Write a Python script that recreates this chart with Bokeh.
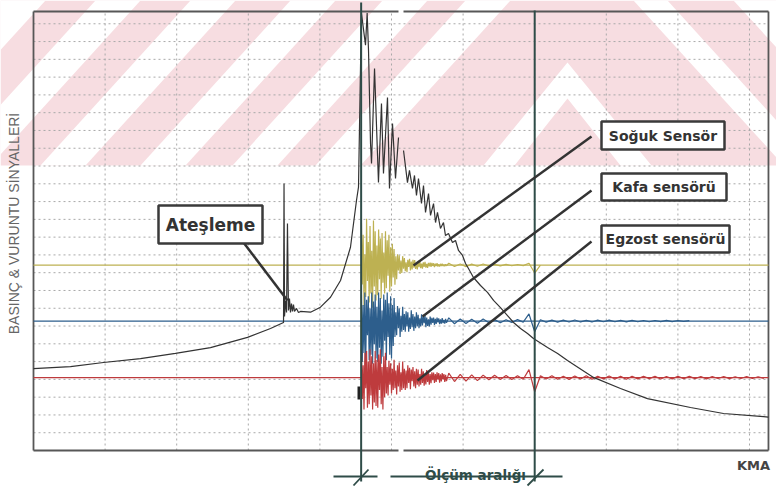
import numpy as np
from bokeh.plotting import figure
from bokeh.models import Range1d, Label
from bokeh.embed import file_html
from bokeh.resources import INLINE

# ---------------- data ----------------
# x: crank angle (KMA) in grid units, 10 per major division; y: signal level in grid divisions
GRID_X = [10, 20, 30, 40, 50, 60, 70, 80, 90, 100]
GRID_Y = [1, 2, 3, 4, 5, 6, 7, 8, 9, 10, 11, 12, 13, 14, 15, 16, 17, 18, 19, 20, 21, 22, 23, 24]
FRAME_RIGHT = 102.65
FRAME_TOP = 24.69

NAN = float("nan")
PRESS_KMA = [0.0, 5.17, 9.78, 14.94, 19.83, 24.72, 29.89, 33.10, 34.92, 34.99,
             35.06, 35.20, 35.34, 35.47, 35.61, 35.75, 35.89, 36.03, 36.17, 36.31,
             36.45, 36.73, 37.01, 37.29, 38.69, 40.08, 41.48, 42.88, 44.27, 45.11,
             45.39, 45.80, 46.37, 46.60, 46.79, 47.07, 47.21, 47.63, 48.18, 48.60,
             48.88, 49.44, 49.72, 50.14, 50.56, 50.98, NAN, 51.68, 52.23, 52.51,
             52.93, 53.21, 53.49, 53.77, 54.19, 54.47, 54.75, 55.17, 55.45, 55.87,
             56.15, 56.42, 56.84, 57.26, 57.54, 57.96, 58.52, 58.94, 59.36, 59.92,
             60.34, 60.75, 61.45, 62.43, 63.41, 64.25, 65.22, 66.20, 67.04, 68.02,
             69.00, 69.83, 71.79, 73.20, 74.58, 78.21, 81.98, 85.75, 91.76, 96.37,
             101.96, 102.65]
PRESS_VAL = [4.61, 4.72, 4.95, 5.17, 5.46, 5.79, 6.36, 6.86, 7.20, 15.02,
             7.54, 8.44, 7.76, 12.77, 7.87, 8.55, 7.76, 8.27, 7.82, 8.21,
             7.82, 7.99, 7.76, 7.82, 7.78, 8.06, 8.62, 9.56, 11.43, 14.06,
             14.81, 24.60, 22.80, 24.60, 22.50, 17.27, 16.14, 21.48, 15.07, 19.52,
             15.58, 19.85, 14.74, 18.39, 15.30, 17.60, NAN, 16.87, 15.07, 15.75,
             14.74, 15.47, 14.34, 15.30, 13.89, 14.90, 13.39, 14.45, 13.22, 13.89,
             12.82, 13.39, 12.49, 12.82, 12.09, 12.20, 11.70, 11.81, 11.25, 10.97,
             10.52, 10.24, 9.73, 9.28, 8.89, 8.44, 8.04, 7.59, 7.20, 6.86,
             6.58, 6.30, 5.79, 5.46, 5.06, 4.11, 3.49, 2.92, 2.42, 2.08,
             1.91, 1.88]

# knock sensor samples: dense burst after combustion, then sparser tail
KNOCK_START, KNOCK_STEP = 45.8, 0.12
TAIL_START, TAIL_STEP = 58.0, 0.8

SOGUK_BASE = 10.43
KAFA_BASE = 7.28
EGZOST_BASE = 4.10

SOGUK_BURST = [2.4, -1.1, 1.7, -2.3, 0.6, -1.8, 2.6, -0.9, 1.3, -2.1, 2.2, -1.6, 0.8, -2.4, 2.5, -1.2, 1.9, -2.0,
               1.1, -1.7, 2.0, -0.8, 1.5, -1.9, 1.8, -1.0, 0.7, -1.6, 1.9, -1.3, 1.4, -0.6, 1.7, -1.5, 1.0, -1.2,
               1.2, -0.7, 0.9, -1.1, 0.5, -0.8,
               0.6, -0.3, 0.55, -0.5, 0.25, -0.45, 0.5, -0.2, 0.4,
               -0.35, 0.15, -0.4, 0.3, -0.1, 0.35, -0.3, 0.2, -0.25, 0.3, -0.15, 0.28, -0.22, 0.1, -0.25,
               0.2, -0.12, 0.22, -0.18, 0.08, -0.2, 0.15, -0.1, 0.18, -0.14, 0.06, -0.16, 0.12, -0.08, 0.14,
               -0.1, 0.12, -0.05, 0.1, -0.12, 0.08, -0.06, 0.1, -0.08, 0.04, -0.09, 0.07, -0.05, 0.08, -0.06,
               0.03, -0.07, 0.05, -0.04]
KAFA_BURST = [1.5, -2.3, 0.9, -1.8, 1.6, -2.5, 1.2, -0.8, 1.4, -2.2, 0.7, -1.9, 1.6, -2.4, 1.1, -1.3, 1.5, -2.1,
              0.8, -2.3, 1.6, -1.5, 1.3, -2.4, 0.6, -2.0, 1.5, -1.1, 1.2, -2.2, 1.6, -0.9, 1.0, -1.9, 1.4, -2.1,
              0.9, -1.4, 1.3,
              -0.9, 0.5, -0.8, 0.85, -0.4, 0.7, -0.9, 0.3, -0.6, 0.8, -0.5, 0.4,
              -0.6, 0.55, -0.3, 0.5, -0.6, 0.2, -0.45, 0.6, -0.35, 0.4, -0.55, 0.25, -0.4, 0.5, -0.3,
              0.35, -0.4, 0.15, -0.3, 0.38, -0.25, 0.3, -0.12, 0.32, -0.35, 0.2, -0.28, 0.1, -0.3, 0.25,
              -0.2, 0.18, -0.1, 0.2, -0.22, 0.12, -0.16, 0.2, -0.08, 0.15, -0.18, 0.1, -0.14, 0.16, -0.12,
              0.06, -0.14, 0.12, -0.1]
EGZOST_BURST = [1.6, -1.2, 0.7, -1.8, 1.4, -0.6, 1.5, -1.7, 0.9, -1.5, 1.6, -1.0, 1.2, -1.8, 0.8, -1.4, 1.5, -1.6,
                1.0, -1.7, 1.3, -0.7, 1.6, -1.5, 0.6, -1.8, 1.2, -1.1, 1.4,
                -0.9, 0.6, -1.0, 0.95, -0.4, 0.8, -0.9, 0.5, -0.7, 1.0, -0.6, 0.4, -0.95, 0.7, -0.5, 0.85,
                -0.8, 0.3, -0.7, 0.9, -0.6, 0.5,
                -0.7, 0.4, -0.6, 0.7, -0.3, 0.55, -0.65, 0.45, -0.2, 0.6, -0.5, 0.35, -0.6, 0.5, -0.4,
                0.45, -0.5, 0.2, -0.4, 0.5, -0.3, 0.35, -0.45, 0.15, -0.38, 0.42, -0.25, 0.3, -0.4, 0.2,
                -0.32, 0.3, -0.15, 0.28, -0.3, 0.2, -0.25, 0.3, -0.12, 0.25, -0.28, 0.18, -0.22, 0.25, -0.1,
                0.2, -0.24, 0.15, -0.2]

SOGUK_TAIL = [0.1, -0.08, 0.06, -0.09, 0.05, -0.07, 0.06, -0.05, 0.04, -0.05, 0.04, -0.04, 0.03, -0.03,
              0.1, -0.45, 0.0]
KAFA_TAIL = [0.18, -0.15, 0.12, -0.14, 0.1, -0.12, 0.11, -0.09, 0.08, -0.1, 0.07, -0.08, 0.08, -0.06,
             0.4, -0.6, 0.07,
             -0.06, 0.05, -0.06, 0.05, -0.05, 0.06, -0.05, 0.04, -0.05, 0.05, -0.04, 0.05, -0.04, 0.04,
             -0.05, 0.04, -0.04, 0.03, -0.04, 0.03, -0.03, 0.04, -0.03, 0.03, -0.02, 0.02]
EGZOST_TAIL = [0.25, -0.22, 0.18, -0.2, 0.15, -0.17, 0.14, -0.12, 0.13, -0.1, 0.12, -0.11, 0.1, -0.09,
               0.45, -0.8, 0.1,
               -0.08, 0.1, -0.09, 0.08, -0.1, 0.09, -0.08, 0.1, -0.09, 0.08,
               -0.07, 0.09, -0.08, 0.07, -0.09, 0.08, -0.07, 0.08, -0.06, 0.07,
               -0.08, 0.06, -0.07, 0.08, -0.06, 0.07, -0.06, 0.06, -0.07, 0.06,
               -0.05, 0.06, -0.06, 0.05, -0.05, 0.06, -0.05, 0.05, -0.04]

MEASURE_START, MEASURE_END = 45.76, 70.0

# ---------------- layout helpers (page pixels -> plot units) ----------------
W, H = 776, 487
PX0, PY0, SX, SY = 33.0, 450.0, 7.16, 17.78


def ux(px):
    return (px - PX0) / SX


def uy(py):
    return (PY0 - py) / SY


p = figure(width=W, height=H, x_range=Range1d(ux(0), ux(W)), y_range=Range1d(uy(H), uy(0)),
           x_axis_location=None, y_axis_location=None, min_border=0,
           toolbar_location=None, output_backend="svg")
p.outline_line_color = None
p.xgrid.visible = False
p.ygrid.visible = False
p.background_fill_color = "white"
p.border_fill_color = "white"

# ---- watermark of the scanned page (decoration) ----
PINK = "#f7dde1"
p.patch([ux(0), ux(W), ux(W), ux(0)], [uy(0), uy(0), uy(165), uy(165)],
        fill_color=PINK, line_color=None, level="image")
stripes_x, stripes_y = [], []
for xb in [-150, -55, 40, 140, 232, 315]:
    stripes_x.append([ux(xb), ux(xb + 45), ux(xb + 195), ux(xb + 150)])
    stripes_y.append([uy(165), uy(165), uy(0), uy(0)])
stripes_x.append([ux(483), ux(567), ux(651), ux(620), ux(567), ux(514)])
stripes_y.append([uy(165), uy(62), uy(165), uy(165), uy(98), uy(165)])
stripes_x.append([ux(633), ux(667), ux(776), ux(776)])
stripes_y.append([uy(0), uy(0), uy(120), uy(157)])
stripes_x.append([ux(733), ux(776), ux(776)])
stripes_y.append([uy(0), uy(0), uy(47)])
p.patches(stripes_x, stripes_y, fill_color="white", line_color=None, level="image")

# ---- dotted grid ----
GRID_COL = "#a9a9a9"
p.segment(x0=GRID_X, y0=[0] * len(GRID_X), x1=GRID_X, y1=[FRAME_TOP] * len(GRID_X),
          line_color=GRID_COL, line_width=1, line_dash="2 3")
p.segment(x0=[0] * len(GRID_Y), y0=GRID_Y, x1=[FRAME_RIGHT] * len(GRID_Y), y1=GRID_Y,
          line_color=GRID_COL, line_width=1, line_dash="2 3")

# ---- frame ----
FR = "#575757"
gap0, gap1 = ux(398), ux(403)
p.segment(x0=[0, FRAME_RIGHT, 0, gap1, 0, gap1],
          y0=[0, 0, FRAME_TOP, FRAME_TOP, 0, 0],
          x1=[0, FRAME_RIGHT, gap0, FRAME_RIGHT, gap0, FRAME_RIGHT],
          y1=[FRAME_TOP, FRAME_TOP, FRAME_TOP, FRAME_TOP, 0, 0],
          line_color=FR, line_width=1.8)

# ---- knock signals ----
burst_x = [KNOCK_START + KNOCK_STEP * i for i in range(len(SOGUK_BURST))]


def tail_x(n):
    return [TAIL_START + TAIL_STEP * j for j in range(n)]


YEL, BLU, RED = "#bdb152", "#2d5e8c", "#be3b3d"
for base, burst, tail, col in [(SOGUK_BASE, SOGUK_BURST, SOGUK_TAIL, YEL),
                               (KAFA_BASE, KAFA_BURST, KAFA_TAIL, BLU),
                               (EGZOST_BASE, EGZOST_BURST, EGZOST_TAIL, RED)]:
    p.line([0, FRAME_RIGHT], [base, base], line_color=col, line_width=1.2)
    xs = burst_x + tail_x(len(tail))
    ys = [base + v for v in burst + tail]
    p.line(xs, ys, line_color=col, line_width=1.2)

# trigger mark
p.segment(x0=[ux(358.5)], y0=[uy(386)], x1=[ux(358.5)], y1=[uy(399)], line_color="#222222", line_width=3)

# ---- cylinder pressure ----
p.line(np.array(PRESS_KMA), np.array(PRESS_VAL), line_color="#333333", line_width=1.2)

# ---- measurement window ----
TEAL = "#2f4c48"
p.segment(x0=[MEASURE_START, MEASURE_END], y0=[uy(2), uy(10)],
          x1=[MEASURE_START, MEASURE_END], y1=[uy(481), uy(481)],
          line_color=TEAL, line_width=2)
p.segment(x0=[ux(333), ux(390)], y0=[uy(476), uy(476)], x1=[ux(377), ux(562)], y1=[uy(476), uy(476)],
          line_color=TEAL, line_width=2)
p.segment(x0=[ux(353), ux(527)], y0=[uy(485), uy(485)], x1=[ux(368), ux(543)], y1=[uy(469), uy(469)],
          line_color=TEAL, line_width=1.8)
p.add_layout(Label(x=ux(475), y=uy(474), text="Ölçüm aralığı", text_align="center", text_baseline="alphabetic",
                   text_font="DejaVu Sans", text_font_style="bold", text_font_size="13.5px",
                   text_color=TEAL))
p.add_layout(Label(x=ux(753), y=uy(465), text="KMA", text_align="center", text_baseline="middle",
                   text_font="DejaVu Sans", text_font_style="bold", text_font_size="13px",
                   text_color="#444444"))
p.add_layout(Label(x=ux(13), y=uy(223), text="BASINÇ & VURUNTU SİNYALLERİ", angle=np.pi / 2,
                   text_align="center", text_baseline="middle",
                   text_font="Liberation Sans", text_font_size="14px", text_color="#666666"))

# ---- callouts ----
LEAD = "#333333"
p.segment(x0=[ux(243), ux(591), ux(591), ux(591)], y0=[uy(242), uy(136), uy(190), uy(241)],
          x1=[ux(287), ux(413), ux(422), ux(417)], y1=[uy(300), uy(265), uy(316), uy(380)],
          line_color=LEAD, line_width=2.5)
boxes = [("Ateşleme", 158, 205, 262, 243, "17px"),
         ("Soğuk Sensör", 601, 121, 724, 149, "14px"),
         ("Kafa sensörü", 601, 173, 726, 200, "14px"),
         ("Egzost sensörü", 601, 225, 729, 252, "14px")]
p.quad(left=[ux(b[1]) for b in boxes], right=[ux(b[3]) for b in boxes],
       top=[uy(b[2]) for b in boxes], bottom=[uy(b[4]) for b in boxes],
       fill_color="white", line_color="#3a3a3a", line_width=2.5)
for txt, x0, y0, x1, y1, fs in boxes:
    p.add_layout(Label(x=ux((x0 + x1) / 2), y=uy((y0 + y1) / 2), text=txt,
                       text_align="center", text_baseline="middle",
                       text_font="DejaVu Sans", text_font_style="bold",
                       text_font_size=fs, text_color="#333333"))

open("out.html", "w").write(file_html(p, INLINE))
